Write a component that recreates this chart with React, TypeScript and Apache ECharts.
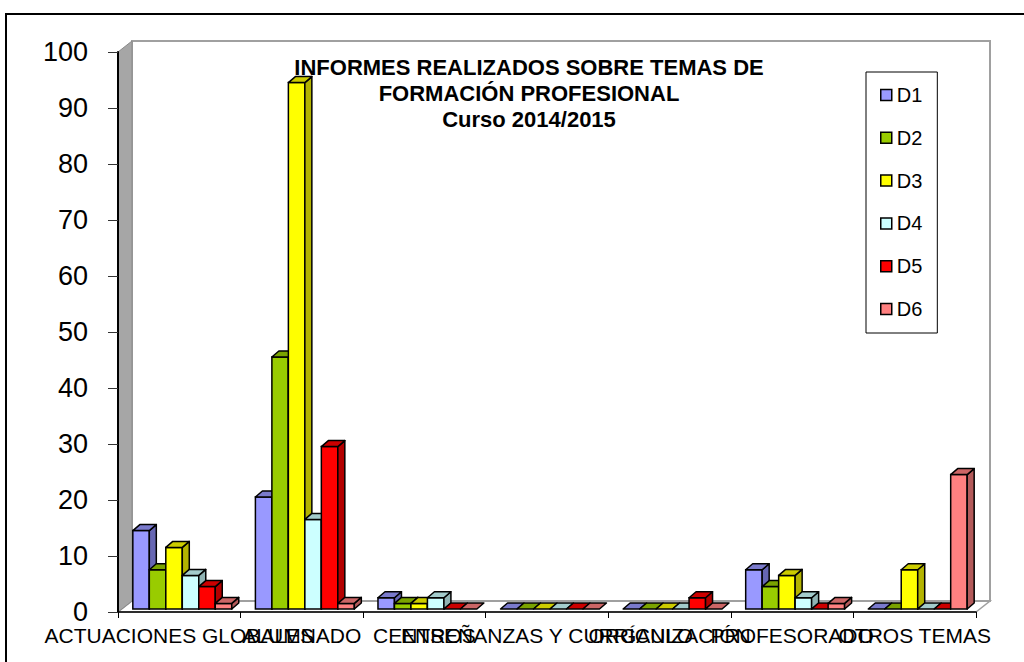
import React, { useEffect, useRef } from "react";
import * as echarts from "echarts";

const categories = [
  "ACTUACIONES GLOBALES",
  "ALUMNADO",
  "CENTROS",
  "ENSEÑANZAS Y CURRÍCULO",
  "ORGANIZACIÓN",
  "PROFESORADO",
  "OTROS TEMAS",
];
const seriesNames = ["D1", "D2", "D3", "D4", "D5", "D6"];
const d1 = [14, 20, 2, 0, 0, 7, 0];
const d2 = [7, 45, 1, 0, 0, 4, 0];
const d3 = [11, 94, 1, 0, 0, 6, 7];
const d4 = [6, 16, 2, 0, 0, 2, 0];
const d5 = [4, 29, 0, 0, 2, 0, 0];
const d6 = [1, 1, 0, 0, 0, 1, 24];
const seriesValues = [d1, d2, d3, d4, d5, d6];
const yTicks = { min: 0, max: 100, interval: 10 };
const titleText = "INFORMES REALIZADOS SOBRE TEMAS DE\nFORMACIÓN PROFESIONAL\nCurso 2014/2015";

const frontColors = ["#9999FF", "#99CC00", "#FFFF00", "#CCFFFF", "#FF0000", "#FF8080"];
const sideColors = ["#6666B3", "#6B8F00", "#B3B300", "#8FB3B3", "#B30000", "#B35A5A"];
const topColors = ["#7A7ACC", "#7AA300", "#CCCC00", "#A3CCCC", "#CC0000", "#CC6666"];

const FONT = "'Liberation Sans', Arial, sans-serif";
const WALL_DX = 14;
const WALL_DY = 11;
const BAR_OFF_X = 3;
const BAR_OFF_Y = 3;
const BAR_DX = 7;
const BAR_DY = 6;
const BAR_FRAC = 0.1345;

export default function App() {
  const ref = useRef<HTMLDivElement>(null);
  useEffect(() => {
    if (!ref.current) return;
    const chart = echarts.init(ref.current, undefined, { renderer: "svg" });

    const wallSeries: any = {
      type: "custom",
      name: "__walls",
      silent: true,
      z: 1,
      data: [[0, 0]],
      renderItem: (params: any, api: any) => {
        const cs = params.coordSys;
        const x0 = cs.x;
        const x1 = cs.x + cs.width;
        const yT = cs.y;
        const yB = cs.y + cs.height;
        return {
          type: "group",
          children: [
            {
              type: "polygon",
              shape: {
                points: [
                  [x0, yB],
                  [x0 + WALL_DX, yB - WALL_DY],
                  [x1 + WALL_DX, yB - WALL_DY],
                  [x1, yB],
                ],
              },
              style: { fill: "#ffffff", stroke: "#a0a0a0", lineWidth: 1.5 },
            },
            {
              type: "rect",
              shape: {
                x: x0 + WALL_DX,
                y: yT - WALL_DY,
                width: cs.width,
                height: cs.height,
              },
              style: { fill: "#ffffff", stroke: "#a0a0a0", lineWidth: 2 },
            },
            {
              type: "polygon",
              shape: {
                points: [
                  [x0, yB],
                  [x0, yT],
                  [x0 + WALL_DX, yT - WALL_DY],
                  [x0 + WALL_DX, yB - WALL_DY],
                ],
              },
              style: { fill: "#a6a6a6", stroke: "#8a8a8a", lineWidth: 1 },
            },
          ],
        };
      },
    };

    const barSeries = seriesValues.map((vals, si) => ({
      type: "custom",
      name: seriesNames[si],
      z: 2 + si,
      itemStyle: { color: frontColors[si], borderColor: "#000", borderWidth: 1.5 },
      data: vals.map((v, ci) => [ci, v]),
      encode: { x: 0, y: 1 },
      renderItem: (params: any, api: any) => {
        const ci = api.value(0);
        const v = api.value(1);
        const base = api.coord([ci, 0]);
        const top = api.coord([ci, v]);
        const band = api.size([1, 0])[0];
        const w = band * BAR_FRAC;
        const x = base[0] - 3 * w + si * w + BAR_OFF_X;
        const yb = base[1] - BAR_OFF_Y;
        const h = base[1] - top[1];
        const yt = yb - h;
        const lw = 1.5;
        const children: any[] = [];
        if (h > 0.5) {
          children.push({
            type: "rect",
            shape: { x, y: yt, width: w, height: h },
            style: { fill: frontColors[si], stroke: "#000", lineWidth: lw },
          });
          children.push({
            type: "polygon",
            shape: {
              points: [
                [x + w, yb],
                [x + w, yt],
                [x + w + BAR_DX, yt - BAR_DY],
                [x + w + BAR_DX, yb - BAR_DY],
              ],
            },
            style: { fill: sideColors[si], stroke: "#000", lineWidth: lw, lineJoin: "round" },
          });
        }
        children.push({
          type: "polygon",
          shape: {
            points: [
              [x, yt],
              [x + BAR_DX, yt - BAR_DY],
              [x + w + BAR_DX, yt - BAR_DY],
              [x + w, yt],
            ],
          },
          style: { fill: topColors[si], stroke: "#000", lineWidth: lw, lineJoin: "round" },
        });
        return { type: "group", children };
      },
    }));

    chart.setOption({
      animation: false,
      backgroundColor: "#ffffff",
      textStyle: { fontFamily: FONT },
      grid: { left: 118, right: 48, top: 52, bottom: 50, containLabel: false },
      legend: {
        data: seriesNames.map((n, i) => ({
          name: n,
          icon: "rect",
          itemStyle: { color: frontColors[i], borderColor: "#000", borderWidth: 1.5 },
        })),
        orient: "vertical",
        left: 866,
        top: 72,
        itemWidth: 11,
        itemHeight: 11,
        itemGap: 22.8,
        padding: [13, 15, 14, 14],
        borderColor: "#000",
        borderWidth: 1,
        backgroundColor: "#fff",
        textStyle: { fontSize: 20, color: "#000", fontFamily: FONT },
        selectedMode: false,
        z: 20,
      },
      xAxis: {
        type: "category",
        data: categories,
        boundaryGap: true,
        axisLine: { show: true, lineStyle: { color: "#000", width: 1.5 } },
        axisTick: { show: true, length: 6, lineStyle: { color: "#000" } },
        axisLabel: {
          interval: 0,
          fontSize: 21,
          color: "#000",
          margin: 13,
          fontFamily: FONT,
        },
        splitLine: { show: false },
        z: 10,
      },
      yAxis: {
        type: "value",
        min: yTicks.min,
        max: yTicks.max,
        interval: yTicks.interval,
        axisLine: { show: true, lineStyle: { color: "#000", width: 2 } },
        axisTick: { show: true, inside: false, length: 10, lineStyle: { color: "#333" } },
        axisLabel: { fontSize: 27, color: "#000", margin: 30, fontFamily: FONT },
        splitLine: { show: false },
        z: 10,
      },
      graphic: [
        {
          type: "rect",
          shape: { x: 6, y: 14, width: 1040, height: 720 },
          style: { fill: "none", stroke: "#000", lineWidth: 2 },
          silent: true,
          z: 100,
        },
        {
          type: "text",
          x: 529,
          y: 54,
          style: {
            text: titleText,
            fontFamily: FONT,
            fontSize: 22,
            fontWeight: "bold",
            lineHeight: 26,
            fill: "#000",
            textAlign: "center",
            textVerticalAlign: "top",
          },
          z: 50,
        },
      ],
      series: [wallSeries, ...barSeries],
    });

    return () => chart.dispose();
  }, []);

  return (
    <div
      ref={ref}
      style={{ position: "fixed", left: 0, top: 0, width: 1024, height: 662, background: "#fff" }}
    />
  );
}
